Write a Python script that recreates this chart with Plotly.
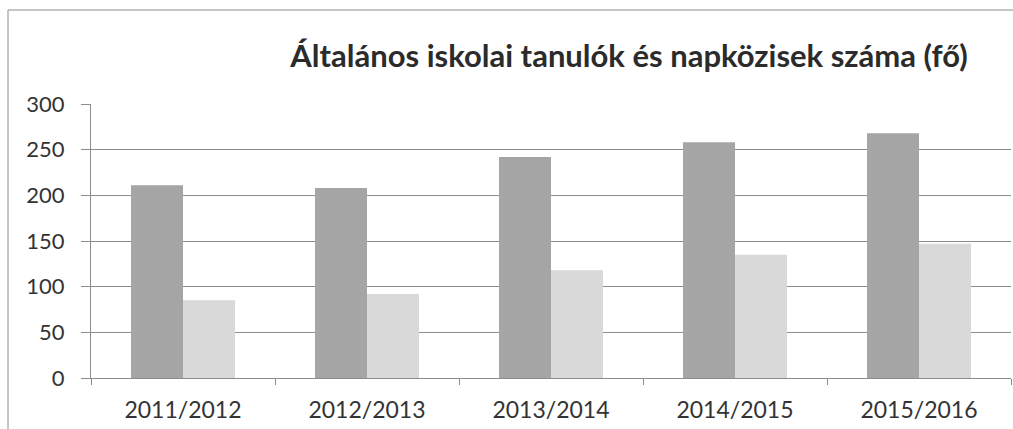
import plotly.graph_objects as go

categories = ["2011/2012", "2012/2013", "2013/2014", "2014/2015", "2015/2016"]
tanulok = [211, 208, 242, 258, 268]
napkozisek = [85, 92, 118, 135, 147]
title_text = "Általános iskolai tanulók és napközisek száma (fő)"

W, H = 1013, 429
L, R, T, B = 91, 2, 104, 51
pw = W - L - R
ph = H - T - B

fig = go.Figure()
fig.add_bar(x=categories, y=tanulok, marker=dict(color="#a5a5a5", line=dict(width=0)), name="Tanulók")
fig.add_bar(x=categories, y=napkozisek, marker=dict(color="#d9d9d9", line=dict(width=0)), name="Napközisek")

font = "Lato, 'Open Sans', sans-serif"
fig.update_layout(
    width=W, height=H,
    margin=dict(l=L, r=R, t=T, b=B),
    paper_bgcolor="white", plot_bgcolor="white",
    barmode="group", bargap=0.435, bargroupgap=0,
    showlegend=False,
    font=dict(family=font, size=22, color="#333333"),
    title=dict(text=title_text, x=629 / W, xref="container", xanchor="center",
               y=1 - 56 / H, yref="container", yanchor="middle",
               font=dict(family=font, size=31, color="#2b2b2b", weight="bold")),
    xaxis=dict(showline=True, linecolor="#8c8c8c", linewidth=1, ticks="outside",
               tickson="boundaries", ticklen=6, tickcolor="#8c8c8c",
               showgrid=False, ticklabelstandoff=11,
               tickfont=dict(size=23, color="#333333")),
    yaxis=dict(range=[0, 300], tickvals=[0, 50, 100, 150, 200, 250, 300],
               showline=True, linecolor="#8c8c8c", linewidth=1,
               ticks="outside", ticklen=9, tickcolor="#8c8c8c",
               showgrid=True, gridcolor="#8c8c8c", gridwidth=1,
               ticklabelstandoff=12, tickfont=dict(size=22, color="#333333"),
               zeroline=False),
)

# chart frame (left and top border)
x0 = (8 - L) / pw
y_top = (H - B - 10) / ph
y_bot = (H - B - 432) / ph
fig.add_shape(type="line", xref="paper", yref="paper", x0=x0, x1=x0, y0=y_bot, y1=y_top,
              line=dict(color="#8c8c8c", width=1))
fig.add_shape(type="line", xref="paper", yref="paper", x0=x0, x1=(W + 5 - L) / pw, y0=y_top, y1=y_top,
              line=dict(color="#8c8c8c", width=1))

fig.write_html(
    "out.html",
    config={"displayModeBar": False},
    post_script="document.body.style.margin='0';document.body.style.overflow='hidden';",
)
